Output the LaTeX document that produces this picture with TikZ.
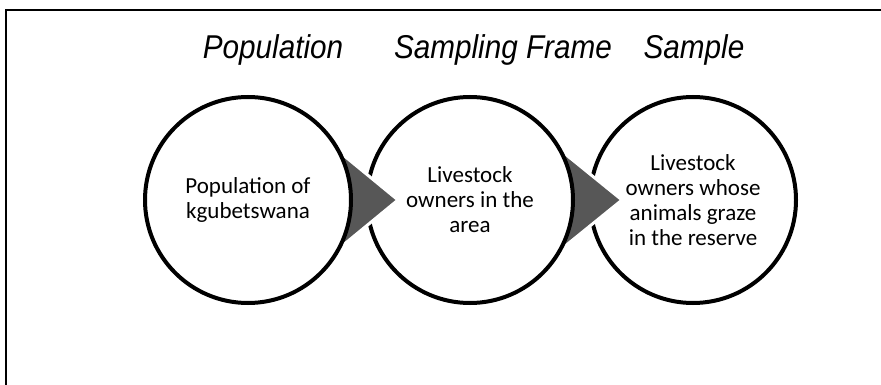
\documentclass[tikz,border=0pt]{standalone}
\usepackage{fontspec}
\setmainfont{Carlito}
\newfontfamily\headfont[FakeStretch=0.9]{Liberation Sans}
\begin{document}
\begin{tikzpicture}[x=1pt,y=-1pt,
  stage/.style={draw,circle,line width=4pt,fill=white,minimum size=206pt,inner sep=0pt,align=center,font=\fontsize{23}{25}\selectfont},
  head/.style={font=\headfont\itshape\fontsize{33}{36}\selectfont},
  pointer/.style={fill=black!66,draw=white,line width=3pt}]
\useasboundingbox (0,0) rectangle (881,385);
% frame edges
\draw[line width=2pt] (6,385) -- (6,10) -- (881,10);
% headings
\node[head] (hpop) at (273,50) {Population};
\node[head] (hframe) at (503,50) {Sampling Frame};
\node[head] (hsample) at (694,50) {Sample};
% circles back to front, pointers tucked under the left circle
\node[stage] (sample) at (693,200) {Livestock\\owners whose\\animals graze\\in the reserve};
\draw[pointer] (548,140) -- (622,200) -- (548,260) -- cycle;
\node[stage] (frame) at (470,200) {Livestock\\owners in the\\area};
\draw[pointer] (325,140) -- (398,200) -- (325,260) -- cycle;
\node[stage] (pop) at (248,200) {Population of\\kgubetswana};
\end{tikzpicture}
\end{document}
